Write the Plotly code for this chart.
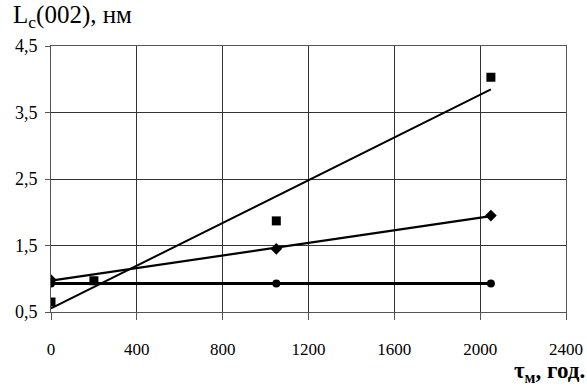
import numpy as np
import plotly.graph_objects as go

# Annealing time, h
t_sq = [0, 200, 1050, 2050]
lc_sq = [0.65, 0.97, 1.87, 4.03]

t_dm = [0, 1050, 2050]
lc_dm = [0.98, 1.45, 1.95]

t_ci = [0, 1050, 2050]
lc_ci = [0.93, 0.93, 0.93]

x_ticks = [0, 400, 800, 1200, 1600, 2000, 2400]
y_ticks = [0.5, 1.5, 2.5, 3.5, 4.5]
y_tick_text = ["0,5", "1,5", "2,5", "3,5", "4,5"]

FONT = "'Liberation Serif', 'Times New Roman', Times, serif"

fig = go.Figure()


def add_series(xs, ys, symbol, size, lw):
    # least-squares trend line over the measured points
    k, b = np.polyfit(xs, ys, 1)
    xf = np.array([min(xs), max(xs)])
    fig.add_trace(go.Scatter(x=xf, y=k * xf + b, mode="lines",
                             line=dict(color="black", width=lw),
                             showlegend=False, hoverinfo="skip"))
    fig.add_trace(go.Scatter(x=xs, y=ys, mode="markers",
                             marker=dict(symbol=symbol, size=size, color="black"),
                             showlegend=False))


add_series(t_sq, lc_sq, "square", 9, 2)
add_series(t_dm, lc_dm, "diamond", 9, 2.2)
add_series(t_ci, lc_ci, "circle", 8, 3)

fig.update_layout(
    width=587, height=387,
    margin=dict(l=51, r=21, t=46, b=75),
    paper_bgcolor="white", plot_bgcolor="white",
    font=dict(family=FONT, color="black", size=17),
    xaxis=dict(range=[0, 2400], tickvals=x_ticks, showgrid=True,
               gridcolor="#333", gridwidth=1, zeroline=False, automargin=False,
               showline=True, linecolor="#555", linewidth=1, mirror=True,
               ticks="outside", ticklen=7, tickcolor="#555",
               ticklabelstandoff=15, tickfont=dict(size=17, family=FONT)),
    yaxis=dict(range=[0.5, 4.5], tickvals=y_ticks, ticktext=y_tick_text,
               showgrid=True, gridcolor="#333", gridwidth=1, zeroline=False,
               automargin=False,
               showline=True, linecolor="#555", linewidth=1, mirror=True,
               ticks="outside", ticklen=5, tickcolor="#555",
               ticklabelstandoff=4, tickfont=dict(size=18, family=FONT)),
    annotations=[
        dict(text="L<sub>c</sub>(002), нм", xref="paper", yref="paper",
             x=-40 / 515, y=(312 - 34) / 266, xanchor="left", yanchor="bottom",
             showarrow=False, font=dict(size=25, family=FONT)),
        dict(text="<b>τ<sub>м</sub>, год.</b>", xref="paper", yref="paper",
             x=(587 - 51) / 515, y=-(388 - 312) / 266, xanchor="right",
             yanchor="bottom", showarrow=False, font=dict(size=23, family=FONT)),
    ],
)

fig.write_html("out.html")
